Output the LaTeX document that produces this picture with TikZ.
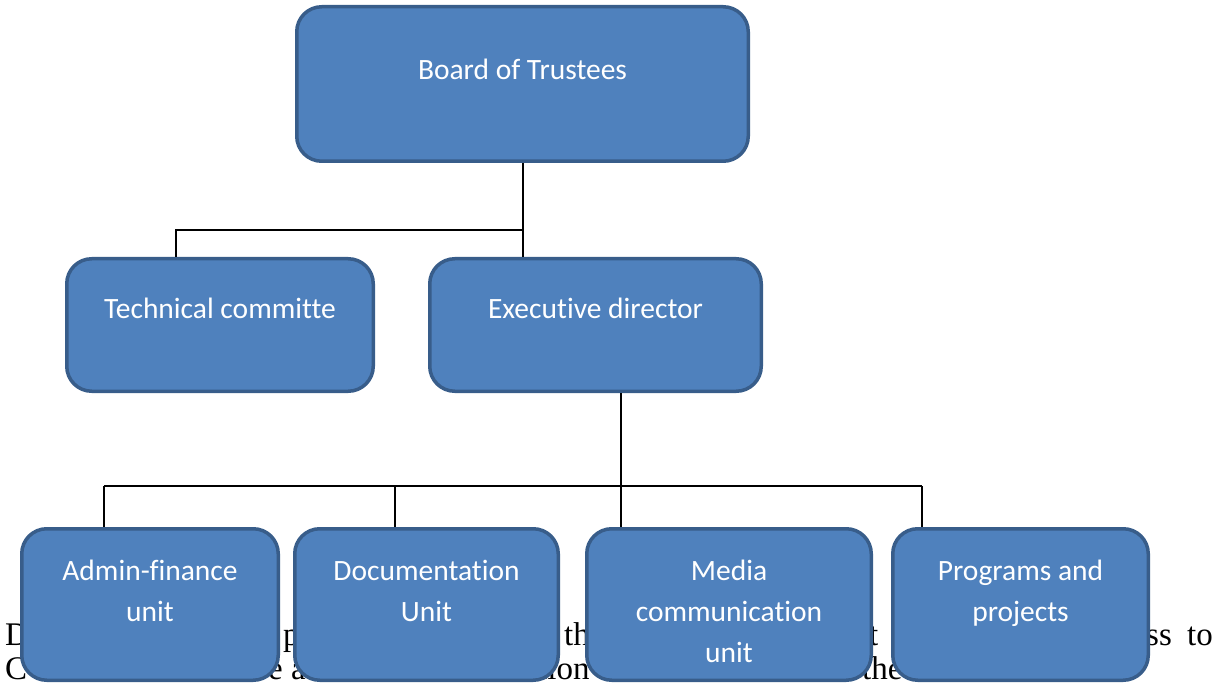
\documentclass[tikz,border=0pt]{standalone}
\usepackage{fontspec}
\setmainfont{Liberation Serif}
\newfontfamily\boxfont{Carlito}[Ligatures={NoCommon,NoContextual}]
\usetikzlibrary{positioning}
\definecolor{boxfill}{HTML}{4F81BD}
\definecolor{boxedge}{HTML}{385D8A}

\begin{document}
\begin{tikzpicture}[x=1pt, y=-1pt,
  unitbox/.style={draw=boxedge, fill=boxfill, line width=3.5pt, rounded corners=25pt, inner sep=0pt},
  boxtext/.style={text=white, font=\boxfont\fontsize{29.5}{41}\selectfont, align=center, inner sep=0pt, anchor=north},
  bodytext/.style={font=\fontsize{33}{34}\selectfont, anchor=base west, inner sep=0pt},
  link/.style={black, line width=2pt}]
\useasboundingbox (0,0) rectangle (1212,684);
% page text behind the chart
\foreach \x/\y/\w [count=\i] in {5/645/D, 283/645/p, 564/645/th, 869/645/t, 1146/645/ss, 1187/645/to,
  5/679/C, 268/679/e a, 538/679/tion, 862/679/the} {
 \node[bodytext] (txt\i) at (\x,\y) {\w};
}
% top levels
\node[unitbox, minimum width=451.5pt, minimum height=154.5pt] (board) at (522.5,84) {};
\node[unitbox, minimum width=306.5pt, minimum height=132.5pt] (tech) at (220,325) {};
\node[unitbox, minimum width=331.5pt, minimum height=132.5pt] (exec) at (595.5,325) {};
\node[boxtext] (board-t) at ([yshift=-54pt]board.north) {Board of Trustees};
\node[boxtext] (tech-t) at ([yshift=-41pt]tech.north) {Technical committe};
\node[boxtext] (exec-t) at ([yshift=-41pt]exec.north) {Executive director};
% units
\foreach \nm/\cx/\bw/\txt in {admin/150/256.5/{Admin-finance\\unit}, docu/426.5/263.5/{Documentation\\Unit},
  media/729/284.5/{Media\\communication\\unit}, prog/1020.5/255.5/{Programs and\\projects}} {
 \node[unitbox, minimum width=\bw pt, minimum height=151.5pt] (\nm) at (\cx,604.5) {};
 \node[boxtext] (\nm-t) at ([yshift=-33pt]\nm.north) {\txt};
}
% connectors
\coordinate (tj) at (176,230);
\draw[link] (board.south) -- (board.south |- exec.north);
\draw[link] (board.south |- tj) -- (tj) -- (tj |- tech.north);
\coordinate (ej) at (621,486);
\draw[link] (exec.south -| ej) -- (ej |- media.north);
\foreach \d in {104,395,922} {
 \coordinate (dj\d) at (\d,486);
}
\draw[link] (dj104) -- (dj922);
\foreach \d/\nm in {104/admin,395/docu,922/prog} {
 \draw[link] (dj\d) -- (dj\d |- \nm.north);
}
\end{tikzpicture}
\end{document}
